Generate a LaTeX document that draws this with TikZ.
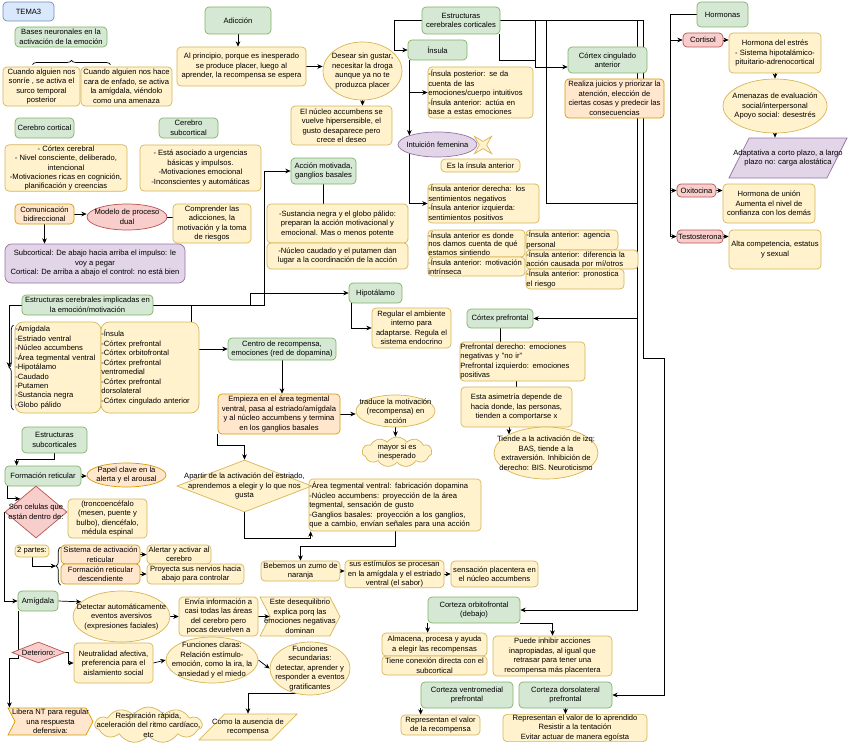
\documentclass[tikz,border=0pt]{standalone}
\usepackage{fontspec}
\setmainfont{Liberation Sans}
\usetikzlibrary{arrows.meta,calc,shapes.geometric,shapes.symbols,decorations.pathreplacing}
\definecolor{gfill}{HTML}{D5E8D4}
\definecolor{gline}{HTML}{82B366}
\definecolor{yfill}{HTML}{FFF2CC}
\definecolor{yline}{HTML}{D6B656}
\definecolor{pfill}{HTML}{FFE6CC}
\definecolor{pline}{HTML}{D79B00}
\definecolor{rfill}{HTML}{F8CECC}
\definecolor{rline}{HTML}{B85450}
\definecolor{vfill}{HTML}{E1D5E7}
\definecolor{vline}{HTML}{9673A6}
\definecolor{bfill}{HTML}{DAE8FC}
\definecolor{bline}{HTML}{6C8EBF}
\pgfdeclarelayer{background}
\pgfsetlayers{background,main}
\tikzset{
  wh/.style 2 args={minimum width=#1*0.3mm, minimum height=#2*0.3mm},
  mc box/.style={draw, line width=0.6pt, rounded corners=1.2mm, align=center,
    inner xsep=1pt, inner ysep=0.5pt},
  mc green/.style={mc box, draw=gline, fill=gfill},
  mc yellow/.style={mc box, draw=yline, fill=yfill},
  mc peach/.style={mc box, draw=pline, fill=pfill},
  mc red/.style={mc box, draw=rline, fill=rfill},
  mc violet/.style={mc box, draw=vline, fill=vfill, rounded corners=2mm},
  mc blue/.style={mc box, draw=bline, fill=bfill},
  mc list/.style={align=left, inner xsep=0.3pt, text width=#1},
  mc text/.style={align=center, inner sep=0pt},
  mc shape/.style={draw, line width=0.6pt, inner sep=0pt},
  mc yellow oval/.style={mc shape, ellipse, draw=yline, fill=yfill},
  mc peach oval/.style={mc shape, ellipse, draw=pline, fill=pfill},
  mc red oval/.style={mc shape, ellipse, draw=rline, fill=rfill},
  mc violet oval/.style={mc shape, ellipse, draw=vline, fill=vfill},
  mc cloud/.style={mc shape, cloud, cloud puffs=11, cloud puff arc=110, draw=yline, fill=yfill},
  mc rhomb/.style={mc shape, diamond},
  mc slant/.style={mc shape, trapezium, trapezium stretches=true,
    trapezium left angle=#1, trapezium right angle=180-#1},
  mc step/.style={mc shape, signal, signal to=east, signal from=west, signal pointer angle=125},
  mc line/.style={draw=black, line width=0.6pt},
  mc arrow/.style={mc line, -{Stealth[length=1.6mm,width=1.4mm]}},
  mc brace/.style={mc line, decorate, decoration={brace, amplitude=1.3mm}}
}
\begin{document}
\begin{tikzpicture}[x=0.3mm, y=-0.3mm, font=\fontsize{6.5}{8.1}\selectfont]
  \useasboundingbox (0,0) rectangle (848,750);
  % bases neuronales y adiccion
  \node[mc blue, wh={51}{19}] (tema) at (28.5,11.5) {TEMA3};
  \node[mc green, wh={92}{20}] (bases) at (61,37) {Bases neuronales en la\\activación de la emoción};
  \node[mc yellow, wh={77}{39}] (sonrie) at (41.5,86.5) {Cuando alguien nos\\sonríe , se activa el\\surco temporal\\posterior};
  \node[mc yellow, wh={91}{39}] (enfado) at (126.5,86.5) {Cuando alguien nos hace\\cara de enfado, se activa\\la amígdala, viéndolo\\como una amenaza};
  \node[mc green, wh={66}{27}] (adiccion) at (238,20.5) {Adicción};
  \node[mc yellow, wh={129}{39}] (principio) at (241.5,66.5) {Al principio, porque es inesperado\\se produce placer, luego al\\aprender, la recompensa se espera};
  \node[mc yellow oval, wh={79}{58}, label={[mc text]center:{Desear sin gustar,\\necesitar la droga\\aunque ya no te\\produzca placer}}] (desear) at (362.5,71) {};
  \node[mc yellow, wh={101}{39}] (nucleo) at (341.5,125.5) {El núcleo accumbens se\\vuelve hipersensible, el\\gusto desaparece pero\\crece el deseo};
  % cerebro cortical y subcortical
  \node[mc green, wh={59}{20}] (cortical) at (44.5,128) {Cerebro cortical};
  \node[mc yellow, wh={122}{46}] (cortbox) at (66,168) {- Córtex cerebral\\- Nivel consciente, deliberado,\\intencional\\-Motivaciones ricas en cognición,\\planificación y creencias};
  \node[mc green, wh={59}{20}] (subcortical) at (188.5,128) {Cerebro\\subcortical};
  \node[mc yellow, wh={121}{46}] (subcortbox) at (200.5,168) {- Está asociado a urgencias\\básicas y impulsos.\\-Motivaciones emocional\\-Inconscientes y automáticas};
  \node[mc peach, wh={59}{20}] (comunic) at (44.5,214) {Comunicación\\bidireccional};
  \node[mc red oval, wh={80}{26}, label={[mc text]center:{Modelo de proceso\\dual}}] (modelo) at (127,217) {};
  \node[mc yellow, wh={78}{39}] (comprender) at (212,223.5) {Comprender las\\adicciones, la\\motivación y la toma\\de riesgos};
  \node[mc violet, wh={180}{39}] (dual) at (95,263.5) {Subcortical: De abajo hacia arriba el impulso: le\\voy a pegar\\Cortical: De arriba a abajo el control: no está bien};
  % estructuras corticales
  \node[mc green, wh={78}{27}] (corticales) at (461,20.5) {Estructuras\\cerebrales corticales};
  \node[mc green, wh={59}{20}] (insula) at (437.5,50) {Ínsula};
  \node[mc yellow, wh={105}{51}, mc list=31.3mm] (insposterior) at (480.5,92.5) {-Ínsula posterior: se da\\cuenta de las\\emociones/cuerpo intuitivos\\-Ínsula anterior: actúa en\\base a estas emociones};
  \node[mc violet oval, wh={79}{25}, label={[mc text]center:{Intuición femenina}}] (intuicion) at (437.5,144.5) {};
  \node[star, star points=4, star point ratio=0.3, draw=yline, fill=yfill, line width=0.6pt,
    inner sep=0pt, minimum size=2.2mm] (estrella) at (483,145) {};
  \node[mc yellow, wh={79}{13}] (esla) at (480.5,165.5) {Es la ínsula anterior};
  \node[mc yellow, wh={111}{39}, mc list=33.1mm] (insderecha) at (483.5,203.5) {-Ínsula anterior derecha: los\\sentimientos negativos\\-Ínsula anterior izquierda:\\sentimientos positivos};
  \node[mc yellow, wh={97}{27}, mc list=28.9mm, font=\fontsize{6.5}{7.4}\selectfont] (insdonde) at (476.5,243.5) {-Ínsula anterior es donde\\nos damos cuenta de qué\\estamos sintiendo};
  \node[mc yellow, wh={97}{19}, mc list=28.9mm] (insmotiv) at (476.5,266.5) {-Ínsula anterior: motivación\\intrínseca};
  \node[mc yellow, wh={92}{20}, mc list=27.4mm] (insagencia) at (572,240) {-Ínsula anterior: agencia\\personal};
  \node[mc yellow, wh={112}{19}, mc list=33.4mm] (insdiferencia) at (582,259.5) {-Ínsula anterior: diferencia la\\acción causada por mí/otros};
  \node[mc yellow, wh={98}{20}, mc list=29.2mm] (insriesgo) at (575,279) {-Ínsula anterior: pronostica\\el riesgo};
  \node[mc green, wh={79}{26}] (cingulado) at (607.5,60) {Córtex cingulado\\anterior};
  \node[mc peach, wh={99}{39}] (realiza) at (614.5,98.5) {Realiza juicios y priorizar la\\atención, elección de\\ciertas cosas y predecir las\\consecuencias};
  % accion motivada
  \node[mc green, wh={65}{26}] (accion) at (323.5,171) {Acción motivada,\\ganglios basales};
  \node[mc yellow, wh={141}{39}] (sustancia) at (337.5,223.5) {-Sustancia negra y el globo pálido:\\preparan la acción motivacional y\\emocional. Mas o menos potente};
  \node[mc yellow, wh={141}{26}] (caudado) at (337.5,256) {-Núcleo caudado y el putamen dan\\lugar a la coordinación de la acción};
  % hormonas
  \node[mc green, wh={51}{25}] (hormonas) at (722.5,14.5) {Hormonas};
  \node[mc red, wh={40}{14}] (cortisol) at (703,40) {Cortisol};
  \node[mc yellow, wh={92}{40}] (estres) at (775,53) {Hormona del estrés\\- Sistema hipotalámico-\\pituitario-adrenocortical};
  \node[mc yellow oval, wh={104}{54}, label={[mc text]center:{Amenazas de evaluación\\social/interpersonal\\Apoyo social: desestrés}}] (amenazas) at (775,106) {};
  \node[mc slant=76, draw=vline, fill=vfill, wh={118}{40}, label={[mc text]center:{Adaptativa a corto plazo, a largo\\plazo no: carga alostática}}] (adaptativa) at (788,158) {\phantom{X}};
  \node[mc red, wh={39}{13}] (oxitocina) at (696.5,190.5) {Oxitocina};
  \node[mc yellow, wh={92}{39}] (union) at (769,203.5) {Hormona de unión\\Aumenta el nivel de\\confianza con los demás};
  \node[mc red, wh={46}{13}] (testosterona) at (700,236.5) {Testosterona};
  \node[mc yellow, wh={92}{39}] (alta) at (775,249.5) {Alta competencia, estatus\\y sexual};
  % estructuras implicadas
  \node[mc green, wh={131}{20}] (implicadas) at (87.5,305) {Estructuras cerebrales implicadas en\\la emoción/motivación};
  \node[mc yellow, wh={86}{91}, mc list=25.6mm, rounded corners=2.5mm] (listaA) at (58,367.5) {-Amígdala\\-Estriado ventral\\-Núcleo accumbens\\-Área tegmental ventral\\-Hipotálamo\\-Caudado\\-Putamen\\-Sustancia negra\\-Globo pálido};
  \node[mc yellow, wh={98}{91}, mc list=29.2mm, rounded corners=2.5mm] (listaB) at (150,367.5) {-Ínsula\\-Córtex prefrontal\\-Córtex orbitofrontal\\-Córtex prefrontal\\ventromedial\\-Córtex prefrontal\\dorsolateral\\-Córtex cingulado anterior};
  \coordinate (llave1) at (9,367.5);
  \draw[mc brace] (13.5,410) -- (13.5,325);
  \node[mc green, wh={108}{22}] (centro) at (282,349) {Centro de recompensa,\\emociones (red de dopamina)};
  \node[mc peach, wh={122}{40}] (empieza) at (279,414) {Empieza en el área tegmental\\ventral, pasa al estriado/amígdala\\y al núcleo accumbens y termina\\en los ganglios basales};
  \node[mc yellow oval, wh={79}{32}, label={[mc text]center:{traduce la motivación\\(recompensa) en\\acción}}] (traduce) at (395.5,411) {};
  \node[mc cloud, wh={70}{30}, label={[mc text]center:{mayor si es\\inesperado}}] (mayor) at (397,452) {\phantom{X}};
  \node[mc green, wh={53}{20}] (hipotalamo) at (375.5,293) {Hipotálamo};
  \node[mc yellow, wh={79}{40}] (regular) at (411.5,328) {Regular el ambiente\\interno para\\adaptarse. Regula el\\sistema endocrino};
  \node[mc rhomb, draw=yline, fill=yfill, wh={135}{52}, label={[mc text]center:{Apartir de la activación del estriado,\\aprendemos a elegir y lo que nos\\gusta}}] (apartir) at (244.5,486) {};
  \node[mc yellow, wh={172}{52}, mc list=51.4mm] (areateg) at (395,505) {-Área tegmental ventral: fabricación dopamina\\-Núcleo accumbens: proyección de la área\\tegmental, sensación de gusto\\-Ganglios basales: proyección a los ganglios,\\que a cambio, envían señales para una acción};
  \node[mc yellow, wh={79}{20}] (bebemos) at (300.5,571) {Bebemos un zumo de\\naranja};
  \node[mc yellow, wh={99}{26}] (estimulos) at (394.5,574) {sus estímulos se procesan\\en la amígdala y el estriado\\ventral (el sabor)};
  \node[mc yellow, wh={87}{26}] (placentera) at (494.5,574) {sensación placentera en\\el núcleo accumbens};
  % cortex prefrontal
  \node[mc green, wh={66}{19}] (prefrontal) at (500,318.5) {Córtex prefrontal};
  \node[mc yellow, wh={125}{39}, mc list=37.3mm] (prefder) at (522.5,361.5) {Prefrontal derecho: emociones\\negativas y "no ir"\\Prefrontal izquierdo: emociones\\positivas};
  \node[mc yellow, wh={111}{40}] (asimetria) at (516.5,407) {Esta asimetría depende de\\hacia donde, las personas,\\tienden a comportarse x};
  \node[mc yellow oval, wh={104}{52}, label={[mc text]center:{Tiende a la activación de izq:\\BAS, tiende a la\\extraversión. Inhibición de\\derecho: BIS. Neuroticismo}}] (tiende) at (546,453) {};
  % estructuras subcorticales
  \node[mc green, wh={65}{26}] (subcorticales) at (54.5,440) {Estructuras\\subcorticales};
  \node[mc green, wh={76}{20}] (formacion) at (43,476) {Formación reticular};
  \node[mc peach oval, wh={79}{24}, label={[mc text]center:{Papel clave en la\\alerta y el arousal}}] (papel) at (126.5,475) {};
  \node[mc rhomb, draw=rline, fill=rfill, wh={62}{52}, label={[mc text]center:{Son celulas que\\están dentro de:}}] (celulas) at (36,512) {};
  \node[mc yellow, wh={79}{39}] (tronco) at (107.5,518.5) {(troncoencéfalo\\(mesen, puente y\\bulbo), diencéfalo,\\médula espinal};
  \node[mc yellow, wh={34}{12}] (dospartes) at (32,551) {2 partes:};
  \coordinate (llave2) at (56,566);
  \draw[mc brace] (60.5,585) -- (60.5,547);
  \node[mc peach, wh={79}{19}] (sistema) at (100.5,554.5) {Sistema de activación\\reticular};
  \node[mc peach, wh={79}{20}] (descend) at (100.5,574) {Formación reticular\\descendiente};
  \node[mc yellow, wh={64}{19}] (alertar) at (179,554.5) {Alertar y activar al\\cerebro};
  \node[mc yellow, wh={97}{20}] (proyecta) at (195.5,574) {Proyecta sus nervios hacia\\abajo para controlar};
  \node[mc green, wh={40}{20}] (amigdala) at (38,601) {Amígdala};
  \node[mc yellow oval, wh={97}{51}, label={[mc text]center:{Detectar automáticamente\\eventos aversivos\\(expresiones faciales)}}] (detectar) at (121.5,616.5) {};
  \node[mc yellow, wh={79}{39}] (envia) at (218.5,616.5) {Envía información a\\casi todas las áreas\\del cerebro pero\\pocas devuelven a};
  \node[mc step, draw=yline, fill=yfill, wh={80}{39}, label={[mc text]center:{Este desequilibrio\\explica porq las\\emociones negativas\\dominan}}] (deseq) at (300,616.5) {\phantom{X}};
  \node[mc rhomb, draw=rline, fill=rfill, wh={53}{21}, label={[mc text]center:{Deterioro:}}] (deterioro) at (38.5,652.5) {};
  \node[mc yellow, wh={79}{40}] (neutral) at (113.5,663) {Neutralidad afectiva,\\preferencia para el\\aislamiento social};
  \node[mc yellow oval, wh={92}{46}, label={[mc text]center:{Funciones claras:\\Relación estímulo-\\emoción, como la ira, la\\ansiedad y el miedo}}] (claras) at (212,660) {};
  \node[mc yellow oval, wh={80}{53}, label={[mc text]center:{Funciones\\secundarias:\\detectar, aprender y\\responder a eventos\\gratificantes}}] (secundarias) at (310,668.5) {};
  \node[mc slant=62, draw=yline, fill=yfill, wh={98}{26}, label={[mc text]center:{Como la ausencia de\\recompensa}}] (ausencia) at (248,727) {\phantom{X}};
  \node[mc step, draw=pline, fill=pfill, wh={85}{27}, label={[mc text]center:{Libera NT para regular\\una respuesta\\defensiva:}}] (libera) at (50.5,721.5) {\phantom{X}};
  \node[mc cloud, wh={107}{36}, label={[mc text]center:{Respiración rápida,\\aceleración del ritmo cardíaco,\\etc}}] (respiracion) at (148.5,725) {\phantom{X}};
  % cortezas
  \node[mc green, wh={92}{26}] (orbito) at (474,610) {Corteza orbitofrontal\\(debajo)};
  \node[mc yellow, wh={105}{23}] (almacena) at (434.5,644.5) {Almacena, procesa y ayuda\\a elegir las recompensas};
  \node[mc yellow, wh={105}{19}] (conexion) at (434.5,665.5) {Tiene conexión directa con el\\subcortical};
  \node[mc yellow, wh={119}{40}] (inhibir) at (552.5,656) {Puede inhibir acciones\\inapropiadas, al igual que\\retrasar para tener una\\recompensa más placentera};
  \node[mc green, wh={92}{26}] (ventromed) at (467,695) {Corteza ventromedial\\prefrontal};
  \node[mc yellow, wh={79}{20}] (valor) at (440.5,725) {Representan el valor\\de la recompensa};
  \node[mc green, wh={93}{26}] (dorsolat) at (565.5,695) {Corteza dorsolateral\\prefrontal};
  \node[mc yellow, wh={144}{26}] (aprendido) at (575,728) {Representan el valor de lo aprendido\\Resistir a la tentación\\Evitar actuar de manera egoísta};
  \draw[mc brace] ($(sonrie.north)+(-9,-2)$) -- ($(enfado.north)+(-16,-2)$);

  \begin{pgfonlayer}{background}
    \draw[mc arrow] (adiccion.south) -- (adiccion.south |- principio.north);
    \draw[mc arrow] (principio.east) -- (desear.west |- principio.east);
    \draw[mc arrow] (desear.south) -- (desear.south |- nucleo.north);
    \draw[mc arrow] (comunic.east) -- (modelo.west |- comunic.east);
    \draw[mc line] (modelo.east) -- (comprender.west |- modelo.east);
    \draw[mc arrow] (comunic.south) -- (comunic.south |- dual.north);
    % desde las estructuras corticales
    \draw[mc arrow] (corticales.west) -- ++(-27,0) |- (insula.west);
    \draw[mc arrow] (corticales.east) -- (535,20.5) |- ($(cingulado.west)+(0,7)$);
    \draw[mc line] ($(corticales.south east)+(-1,0)$) |- (535,60);
    \draw[mc arrow] (corticales.east) -- (546,20.5) -- (546,203) -- (637,203) |- (prefrontal.east);
    \draw[mc arrow] (corticales.east) -- (637,20.5) |- (orbito.east);
    \draw[mc arrow] (corticales.east) -- (643,20.5) -- (643,358) -- (664,358) |- (dorsolat.east);
    \coordinate (insbus) at ($(insula.south west)+(2,0)$);
    \draw[mc arrow] (insbus) |- (insposterior.west);
    \draw[mc arrow] (insbus) -- (intuicion.north west);
    \draw[mc arrow] (insbus) |- (insderecha.west);
    % hormonas
    \draw[mc arrow] (hormonas.west) -- (670,14.5) |- (cortisol.west);
    \draw[mc arrow] (hormonas.west) -- (670,14.5) |- (oxitocina.west);
    \draw[mc arrow] (hormonas.west) -- (670,14.5) |- (testosterona.west);
    \draw[mc arrow] (cortisol.east) -- (estres.west |- cortisol.east);
    \draw[mc arrow] (estres.south) -- (amenazas.north);
    \draw[mc arrow] (amenazas.south) -- (amenazas.south |- adaptativa.north);
    \draw[mc arrow] (oxitocina.east) -- (union.west |- oxitocina.east);
    \draw[mc arrow] (testosterona.east) -- (alta.west |- testosterona.east);
    % estructuras implicadas
    \draw[mc arrow] (implicadas.west) -| (llave1);
    \draw[mc arrow] (implicadas.east) -- (264,305) |- (accion.west);
    \draw[mc arrow] (implicadas.east) -- (250,305) |- (hipotalamo.west);
    \draw[mc line] ($(listaB.north east)+(-8,0)$) |- (implicadas.east);
    \draw[mc line] (accion.south) -- (accion.south |- sustancia.north);
    \draw[mc arrow] ($(hipotalamo.south west)+(3,0)$) |- (regular.west);
    \draw[mc arrow] (listaB.east |- centro.west) -- (centro.west);
    \draw[mc arrow] (centro.south) -- (centro.south |- empieza.north);
    \draw[mc arrow] (empieza.east) -- (traduce.west |- empieza.east);
    \draw[mc arrow] (traduce.south) -- (traduce.south |- mayor.north);
    \draw[mc arrow] (empieza.south west) -- ++(0,11) -| (apartir.north);
    \draw[mc arrow] (apartir.south) -- ++(0,26) -| ($(areateg.south west)+(2,0)$);
    \draw[mc arrow] (areateg.south) -- ++(0,15) -| (bebemos.north);
    \draw[mc arrow] (bebemos.east) -- (estimulos.west |- bebemos.east);
    \draw[mc arrow] (estimulos.east) -- (placentera.west |- estimulos.east);
    % prefrontal
    \draw[mc line] (prefrontal.south) -- (prefrontal.south |- prefder.north);
    \draw[mc line] (asimetria.north) -- (asimetria.north |- prefder.south);
    \draw[mc arrow] (asimetria.south -| tiende.north west) -- (tiende.north west);
    % subcorticales
    \draw[mc arrow] (subcorticales.south) -- ++(0,6) -| ($(formacion.north west)+(12,0)$);
    \draw[mc arrow] (formacion.east) -- (papel.west |- formacion.east);
    \draw[mc arrow] ($(formacion.south west)+(3,0)$) |- (celulas.north west);
    \draw[mc arrow] (celulas.west) |- (amigdala.west);
    \draw[mc arrow] (dospartes.south) |- (llave2);
    \draw[mc arrow] (sistema.east) -- (alertar.west);
    \draw[mc arrow] (descend.east) -- (proyecta.west);
    \draw[mc arrow] (amigdala.east) -- (detectar.160);
    \draw[mc arrow] (detectar.east) -- (envia.west |- detectar.east);
    \draw[mc arrow] (envia.east) -- (deseq.west |- envia.east);
    \draw[mc arrow] ($(amigdala.south west)+(1,0)$) -- ++(0,47) -| ($(libera.north west)+(2,0)$);
    \draw[mc arrow] (deterioro.east) -- ++(3,0) |- (neutral.west);
    \draw[mc arrow] (neutral.east) -- (claras.west);
    \draw[mc arrow] (claras.east) -- (secundarias.west);
    \draw[mc arrow] (secundarias.240) -| (ausencia.north);
    % cortezas
    \draw[mc arrow] (orbito.south west) -- (orbito.south west |- almacena.north);
    \draw[mc arrow] (orbito.south east) -| (inhibir.north);
    \draw[mc arrow] (ventromed.south west) -- (ventromed.south west |- valor.north);
    \draw[mc arrow] (dorsolat.south) -- (dorsolat.south |- aprendido.north);
  \end{pgfonlayer}
\end{tikzpicture}
\end{document}
